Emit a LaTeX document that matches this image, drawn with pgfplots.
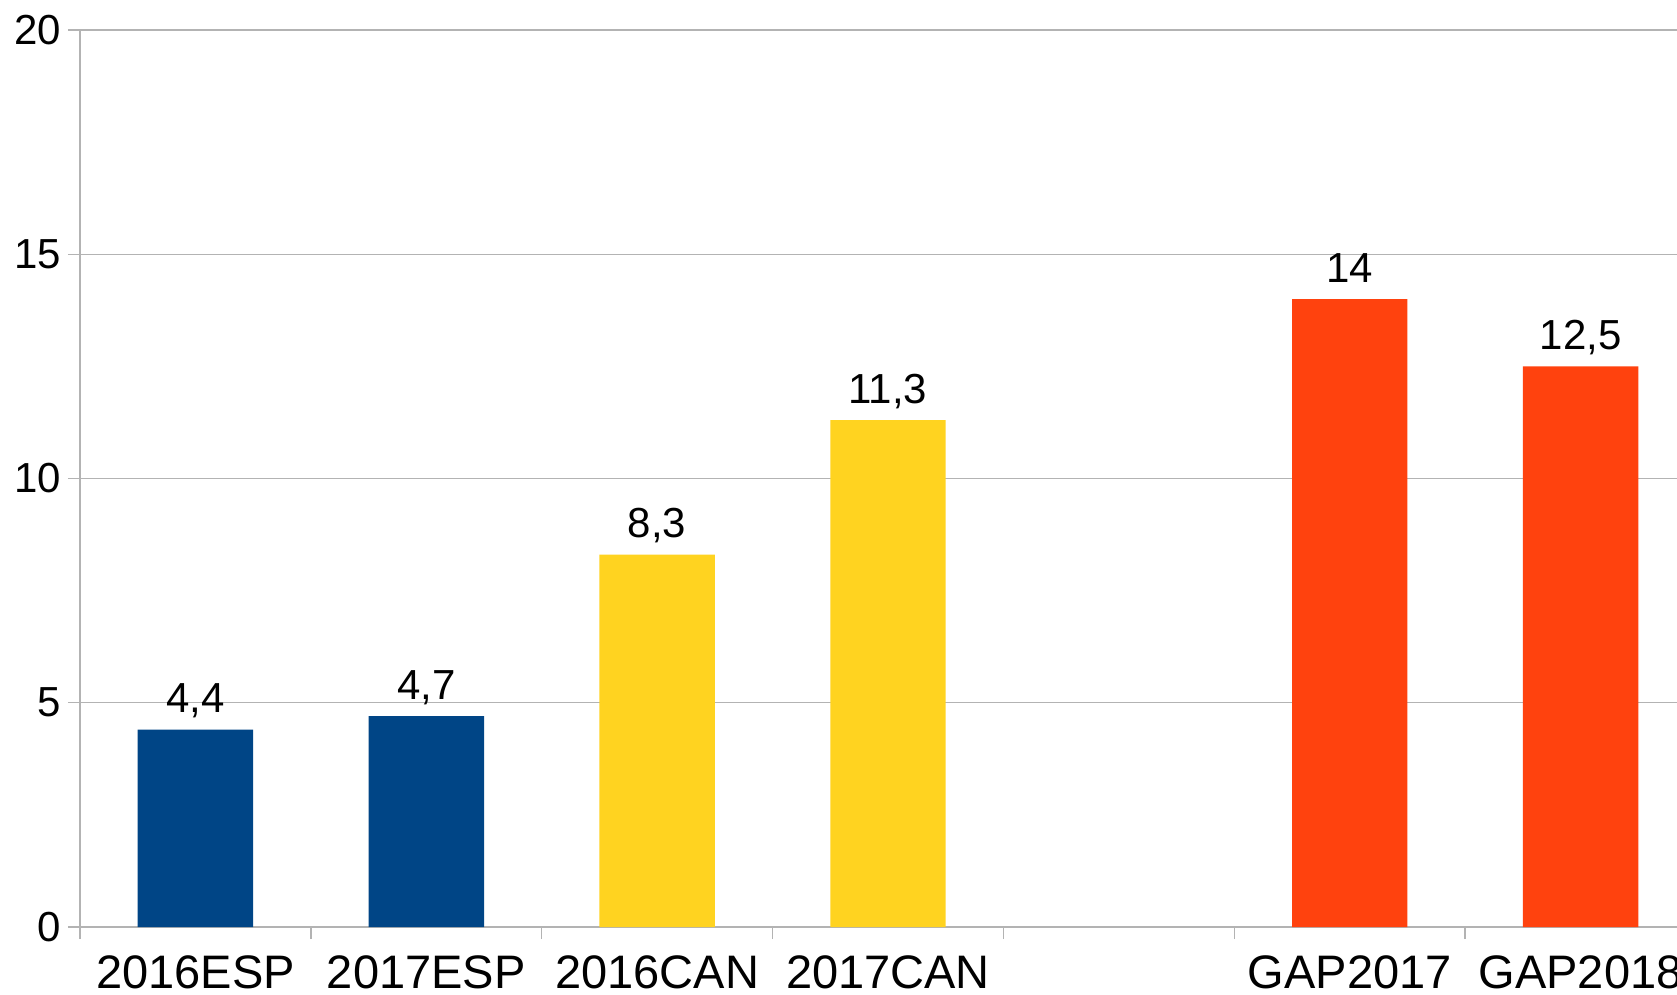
\documentclass[border=0pt]{standalone}
\usepackage{pgfplots}
\pgfplotsset{compat=1.18}
\usepackage{fontspec}
\setmainfont{Liberation Sans}
\definecolor{cblue}{HTML}{004586}
\definecolor{cyellow}{HTML}{FFD320}
\definecolor{cred}{HTML}{FF420E}
\definecolor{gridgray}{HTML}{B3B3B3}
\begin{document}
\begin{tikzpicture}
\clip (0,0) rectangle (419.25pt,248.5pt);
\begin{axis}[
  at={(20pt,16.75pt)}, anchor=south west,
  scale only axis, width=404pt, height=224.25pt,
  xmin=-0.5, xmax=6.5, ymin=0, ymax=20,
  axis lines*=left,
  axis line style={draw=gridgray, line width=0.35pt},
  ymajorgrids, grid style={draw=gridgray, line width=0.35pt},
  tick align=outside, major tick length=3pt,
  tick style={draw=gridgray, line width=0.35pt},
  ytick={0,5,10,15,20},
  yticklabel style={anchor=east, inner sep=0pt, xshift=-1.5pt, font=\fontsize{10.5}{12}\selectfont},
  xtick={-0.5,0.5,1.5,2.5,3.5,4.5,5.5,6.5},
  xticklabels={},
  extra x ticks={0,1,2,3,5,6},
  extra x tick labels={2016ESP,2017ESP,2016CAN,2017CAN,GAP2017,GAP2018},
  extra x tick style={major tick length=0pt, tick style={draw=none},
    xticklabel style={anchor=north, inner sep=0pt, yshift=-7pt, font=\fontsize{11.75}{13}\selectfont}},
  /pgf/number format/.cd, use comma, assume math mode=true, 1000 sep={},
  /pgfplots/.cd,
  ybar, bar width=0.5, bar shift=0pt,
  nodes near coords,
  every node near coord/.append style={anchor=base, inner sep=0pt, yshift=4.25pt, text=black, font=\fontsize{10.5}{12}\selectfont},
]
\addplot[fill=cblue, draw=none] coordinates {(0,4.4) (1,4.7)};
\addplot[fill=cyellow, draw=none] coordinates {(2,8.3) (3,11.3)};
\addplot[fill=cred, draw=none] coordinates {(5,14) (6,12.5)};
\end{axis}
\end{tikzpicture}
\end{document}
